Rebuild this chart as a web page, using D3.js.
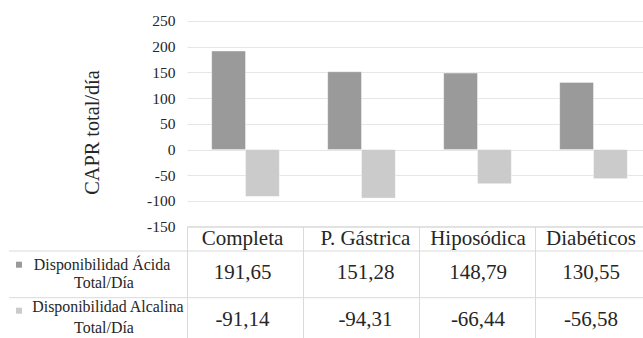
<!DOCTYPE html>
<html>
<head>
<meta charset="utf-8">
<script src="https://cdn.jsdelivr.net/npm/d3@7"></script>
<style>
  html, body { margin: 0; padding: 0; background: #fff; }
  svg { display: block; }
  svg text { font-family: "Liberation Serif", "Tinos", "Times New Roman", Times, "DejaVu Serif", serif; }
</style>
</head>
<body>
<svg id="chart" width="643" height="338"></svg>
<script>
// Categories, series and axis ticks
const categories = ["Completa", "P. Gástrica", "Hiposódica", "Diabéticos"];
const acida = [191.65, 151.28, 148.79, 130.55];
const alcalina = [-91.14, -94.31, -66.44, -56.58];
const seriesLabels = [
  ["Disponibilidad Ácida", "Total/Día"],
  ["Disponibilidad Alcalina", "Total/Día"]
];
const seriesColors = ["#9a9a9a", "#cbcbcb"];
const yTicks = [-150, -100, -50, 0, 50, 100, 150, 200, 250];
const yTitle = "CAPR total/día";

const series = [acida, alcalina];
const locale = d3.formatLocale({ decimal: ",", thousands: ".", grouping: [3], currency: ["", ""], minus: "-" });
const fmtValue = locale.format(".2f");
const fmtTick = locale.format("d");

const svg = d3.select("#chart");
const W = 643;

const plotLeft = 187.5, plotRight = 651.5;
const plotTop = 21, plotBottom = 226.7;

const x = d3.scaleBand().domain(categories).range([plotLeft, plotRight]).paddingInner(0).paddingOuter(0);
const x1 = d3.scaleBand().domain(d3.range(series.length)).range([0, x.bandwidth()]).paddingInner(0).paddingOuter(0.716);
const y = d3.scaleLinear().domain([-150, 250]).range([plotBottom, plotTop]);

// Small horizontal nudges for the table text in each column
const cellShift = [-3, 4, 0.5, -2.5];
const cellX = i => x(categories[i]) + x.bandwidth() / 2 + cellShift[i];

// Gridlines
svg.append("g")
  .selectAll("line").data(yTicks).join("line")
  .attr("x1", plotLeft).attr("x2", W)
  .attr("y1", d => Math.round(y(d)) + 0.5).attr("y2", d => Math.round(y(d)) + 0.5)
  .attr("stroke", "#e6e6e6").attr("stroke-width", 1);

// Y axis labels
const yAxis = d3.axisLeft(y).tickValues(yTicks).tickSize(0).tickPadding(12).tickFormat(fmtTick);
const gy = svg.append("g").attr("transform", `translate(${plotLeft},0)`).call(yAxis);
gy.attr("font-family", null).attr("font-size", null);
gy.select(".domain").remove();
gy.selectAll("text")
  .attr("font-size", 15.5)
  .attr("fill", "#262626");

// Y axis title
svg.append("text")
  .attr("transform", "translate(98.5,132.5) rotate(-90)")
  .attr("text-anchor", "middle")
  .attr("font-size", 20.3)
  .attr("fill", "#262626")
  .text(yTitle);

// Bars
series.forEach((vals, si) => {
  svg.append("g")
    .selectAll("rect").data(vals).join("rect")
    .attr("x", (d, i) => x(categories[i]) + x1(si))
    .attr("width", x1.bandwidth())
    .attr("y", d => y(Math.max(0, d)))
    .attr("height", d => Math.abs(y(d) - y(0)))
    .attr("fill", seriesColors[si])
    .attr("stroke", "#ffffff")
    .attr("stroke-opacity", 0.5)
    .attr("stroke-width", 0.8);
});

// Data table below the chart
const rowTop = plotBottom;
const rowH = 251;
const rowA = 297.7;
const lineColor = "#dadada";
const tbl = svg.append("g").attr("stroke", lineColor).attr("stroke-width", 1);
tbl.append("line").attr("x1", plotLeft).attr("x2", W).attr("y1", rowTop).attr("y2", rowTop);
tbl.append("line").attr("x1", 9).attr("x2", W).attr("y1", rowH).attr("y2", rowH);
tbl.append("line").attr("x1", 9).attr("x2", W).attr("y1", rowA).attr("y2", rowA);
tbl.selectAll("line.v").data(categories.concat(["end"])).join("line")
  .attr("class", "v")
  .attr("x1", (d, i) => plotLeft + i * x.bandwidth())
  .attr("x2", (d, i) => plotLeft + i * x.bandwidth())
  .attr("y1", rowTop).attr("y2", 338);

// Category headers
svg.append("g").selectAll("text").data(categories).join("text")
  .attr("x", (d, i) => cellX(i))
  .attr("y", 245)
  .attr("text-anchor", "middle")
  .attr("font-size", 21)
  .attr("fill", "#262626")
  .text(d => d);

// Values per series
const valueBaselines = [279, 325.7];
series.forEach((vals, si) => {
  svg.append("g").selectAll("text").data(vals).join("text")
    .attr("x", (d, i) => cellX(i))
    .attr("y", valueBaselines[si])
    .attr("text-anchor", "middle")
    .attr("font-size", 21)
    .attr("fill", "#262626")
    .text(d => fmtValue(d));
});

// Legend keys in the first column
const legendRows = [
  { top: 270, bottom: 287.7, key: 261.7, cx: 102 },
  { top: 312.3, bottom: 333.3, key: 307.7, cx: 108 }
];
seriesLabels.forEach((lines, si) => {
  const r = legendRows[si];
  svg.append("rect")
    .attr("x", 16).attr("y", r.key).attr("width", 6).attr("height", 6)
    .attr("fill", seriesColors[si]);
  svg.append("text")
    .attr("x", r.cx).attr("y", r.top)
    .attr("text-anchor", "middle")
    .attr("font-size", 15.9)
    .attr("fill", "#262626")
    .text(lines[0]);
  svg.append("text")
    .attr("x", 104).attr("y", r.bottom)
    .attr("text-anchor", "middle")
    .attr("font-size", 15.9)
    .attr("fill", "#262626")
    .text(lines[1]);
});
</script>
</body>
</html>
